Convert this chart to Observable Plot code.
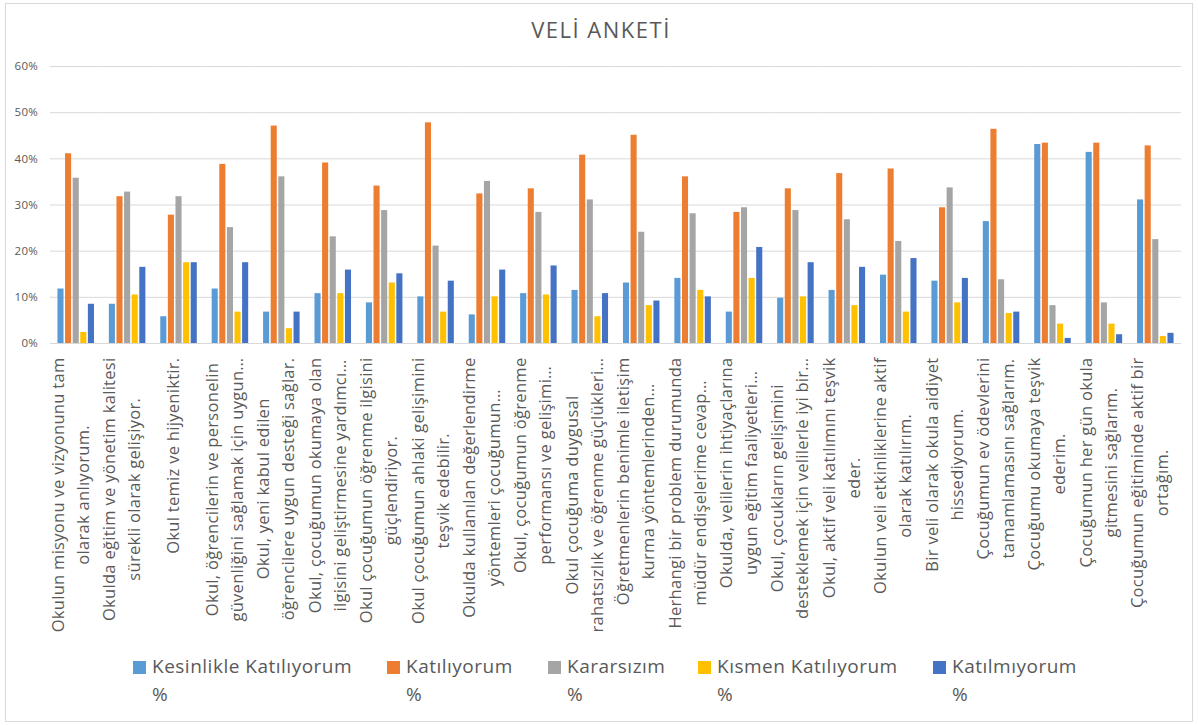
<!DOCTYPE html>
<html>
<head>
<meta charset="utf-8">
<script src="https://cdn.jsdelivr.net/npm/d3@7"></script>
<script src="https://cdn.jsdelivr.net/npm/@observablehq/plot@0.6"></script>
<style>
  body { margin: 0; background: #fff; font-family: "Open Sans", sans-serif; }
  #wrap { position: relative; width: 1198px; height: 725px; overflow: hidden; background: #fff; }
  #frame { position: absolute; left: 5px; top: 3px; width: 1186px; height: 717px; border: 1px solid #D9D9D9; z-index: 2; pointer-events: none; }
  #title { position: absolute; left: 0; width: 1202px; top: 16px; text-align: center; font-size: 22px; line-height: 26px; letter-spacing: 1.5px; color: #595959; }
  #chart { position: absolute; left: 0; top: 50px; }
  .sw { position: absolute; width: 13px; height: 13px; top: 661px; }
  .lt { position: absolute; top: 652px; font-size: 19px; line-height: 28px; letter-spacing: 0.5px; color: #595959; white-space: nowrap; }
</style>
</head>
<body>
<div id="wrap">
  <div id="title">VELİ ANKETİ</div>
  <div id="chart"></div>
  <div id="legend"></div>
  <div id="frame"></div>
</div>
<script>
// ---- Data ----
const labelLine1 = [
  "Okulun misyonu ve vizyonunu tam",
  "Okulda eğitim ve yönetim kalitesi",
  "Okul temiz ve hijyeniktir.",
  "Okul, öğrencilerin ve personelin",
  "Okul, yeni kabul edilen",
  "Okul, çocuğumun okumaya olan",
  "Okul çocuğumun öğrenme ilgisini",
  "Okul çocuğumun ahlaki gelişimini",
  "Okulda kullanılan değerlendirme",
  "Okul, çocuğumun öğrenme",
  "Okul çocuğuma duygusal",
  "Öğretmenlerin benimle iletişim",
  "Herhangi bir problem durumunda",
  "Okulda, velilerin ihtiyaçlarına",
  "Okul, çocukların gelişimini",
  "Okul, aktif veli katılımını teşvik",
  "Okulun veli etkinliklerine aktif",
  "Bir veli olarak okula aidiyet",
  "Çocuğumun ev ödevlerini",
  "Çocuğumu okumaya teşvik",
  "Çocuğumun her gün okula",
  "Çocuğumun eğitiminde aktif bir"
];
const labelLine2 = [
  "olarak anlıyorum.",
  "sürekli olarak gelişiyor.",
  "",
  "güvenliğini sağlamak için uygun…",
  "öğrencilere uygun desteği sağlar.",
  "ilgisini geliştirmesine yardımcı…",
  "güçlendiriyor.",
  "teşvik edebilir.",
  "yöntemleri çocuğumun…",
  "performansı ve gelişimi…",
  "rahatsızlık ve öğrenme güçlükleri…",
  "kurma yöntemlerinden…",
  "müdür endişelerime cevap…",
  "uygun eğitim faaliyetleri…",
  "desteklemek için velilerle iyi bir…",
  "eder.",
  "olarak katılırım.",
  "hissediyorum.",
  "tamamlamasını sağlarım.",
  "ederim.",
  "gitmesini sağlarım.",
  "ortağım."
];
const seriesNames = ["Kesinlikle Katılıyorum %", "Katılıyorum %", "Kararsızım %", "Kısmen Katılıyorum %", "Katılmıyorum %"];
const seriesColors = ["#5B9BD5", "#ED7D31", "#A5A5A5", "#FFC000", "#4472C4"];
const kesinlikleKatiliyorum = [11.8, 8.5, 5.8, 11.8, 6.8, 10.8, 8.8, 10.1, 6.2, 10.8, 11.5, 13.1, 14.1, 6.8, 9.8, 11.5, 14.8, 13.5, 26.4, 43.1, 41.4, 31.1];
const katiliyorum = [41.1, 31.8, 27.8, 38.8, 47.1, 39.1, 34.1, 47.8, 32.4, 33.5, 40.8, 45.1, 36.1, 28.4, 33.5, 36.8, 37.8, 29.4, 46.4, 43.4, 43.4, 42.8];
const kararsizim = [35.8, 32.8, 31.8, 25.1, 36.1, 23.1, 28.8, 21.1, 35.1, 28.4, 31.1, 24.1, 28.1, 29.4, 28.8, 26.8, 22.1, 33.7, 13.8, 8.2, 8.8, 22.5];
const kismenKatiliyorum = [2.4, 10.5, 17.5, 6.8, 3.2, 10.8, 13.1, 6.8, 10.1, 10.5, 5.8, 8.2, 11.5, 14.1, 10.1, 8.2, 6.8, 8.8, 6.5, 4.2, 4.2, 1.5];
const katilmiyorum = [8.5, 16.5, 17.5, 17.5, 6.8, 15.9, 15.1, 13.5, 15.9, 16.8, 10.8, 9.2, 10.1, 20.8, 17.5, 16.5, 18.4, 14.1, 6.8, 1.1, 1.9, 2.2];
const yTicks = [0, 10, 20, 30, 40, 50, 60];

// ---- Build tidy table ----
const seriesValues = [kesinlikleKatiliyorum, katiliyorum, kararsizim, kismenKatiliyorum, katilmiyorum];
const categories = labelLine1.map((l1, i) => (l1 + " " + labelLine2[i]).trim());
const rows = categories.flatMap((c, i) => seriesNames.map((s, j) => ({cat: c, series: s, value: seriesValues[j][i]})));

// ---- Layout ----
const W = 1198, H = 600, mL = 50, mR = 17, mT = 16, mB = 307;
const fxPadInner = 0.26, fxPadOuter = 0.13;
const step = (W - mL - mR) / (categories.length - fxPadInner + 2 * fxPadOuter);
const gapHalf = step * fxPadInner / 2;
const labelFont = 16.5, labelLS = 0.3, labelFamily = "'Open Sans'";
const ctx = document.createElement("canvas").getContext("2d");
ctx.font = `${labelFont}px ${labelFamily}`;
const tw = (s) => s ? ctx.measureText(s).width + labelLS * s.length : 0;

const labelMarks = categories.flatMap((c, i) => {
  const l1 = labelLine1[i], l2 = labelLine2[i];
  const w = Math.max(tw(l1), tw(l2));
  const dy = 14 + w / 2;
  const lines = l2 ? [[l1, -12.5], [l2, 12.5]] : [[l1, 0]];
  return lines.map(([t, dx]) => Plot.text([c], {
    fx: d => d, text: () => t, frameAnchor: "bottom", rotate: -90,
    textAnchor: "middle", dx, dy, fontSize: labelFont, fill: "#595959"
  }));
});

const chart = Plot.plot({
  width: W, height: H, marginLeft: mL, marginRight: mR, marginTop: mT, marginBottom: mB,
  style: {background: "none", fontFamily: "'Open Sans', sans-serif", letterSpacing: labelLS + "px", overflow: "visible"},
  fx: {domain: categories, paddingInner: fxPadInner, paddingOuter: fxPadOuter, round: false, axis: null, label: null},
  x: {domain: seriesNames, paddingInner: 0.2, paddingOuter: 0.1, round: false, axis: null},
  y: {domain: [0, 60], axis: null},
  color: {domain: seriesNames, range: seriesColors},
  marks: [
    Plot.ruleY(yTicks, {stroke: "#D9D9D9", strokeWidth: 1, insetLeft: -gapHalf, insetRight: -gapHalf}),
    Plot.barY(rows, {fx: "cat", x: "series", y: "value", fill: "series"}),
    Plot.axisY({ticks: yTicks, tickFormat: d => d + "%", tickSize: 0, tickPadding: 19, fontSize: 11.5, color: "#595959", label: null}),
    ...labelMarks
  ]
});
document.getElementById("chart").appendChild(chart);

// ---- Legend ----
const legendX = [133, 387, 548, 698, 933];
const legend = document.getElementById("legend");
seriesNames.forEach((s, j) => {
  const sw = document.createElement("div");
  sw.className = "sw"; sw.style.left = legendX[j] + "px"; sw.style.background = seriesColors[j];
  legend.appendChild(sw);
  const t = document.createElement("div");
  t.className = "lt"; t.style.left = (legendX[j] + 19) + "px";
  const parts = s.split(" %");
  t.innerHTML = parts[0] + "<br>%";
  legend.appendChild(t);
});
</script>
</body>
</html>
